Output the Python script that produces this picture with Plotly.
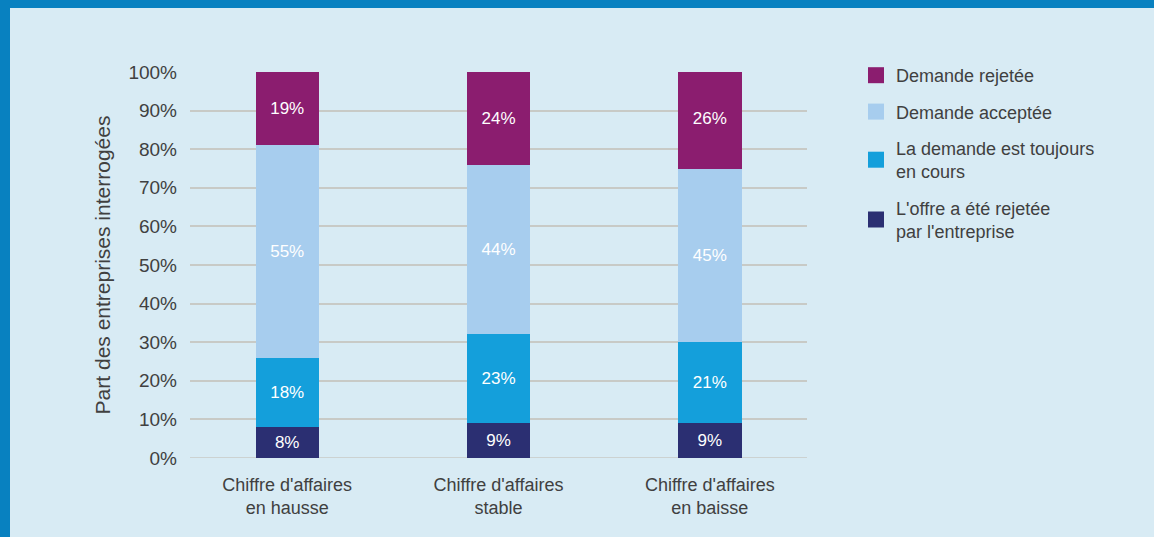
import plotly.graph_objects as go

categories = ["Chiffre d'affaires<br>en hausse", "Chiffre d'affaires<br>stable", "Chiffre d'affaires<br>en baisse"]
series_names = ["L'offre a été rejetée<br>par l'entreprise", "La demande est toujours<br>en cours", "Demande acceptée", "Demande rejetée"]
offre_rejetee = [8, 9, 9]
en_cours = [18, 23, 21]
acceptee = [55, 44, 45]
rejetee = [19, 24, 26]
colors = ["#2b2f72", "#149fdb", "#a7cdee", "#8b1d6f"]
y_ticks = [0, 10, 20, 30, 40, 50, 60, 70, 80, 90, 100]

W, H = 1154, 537
L, R, T, B = 190, 347, 72, 79
PW, PH = W - L - R, H - T - B

fig = go.Figure()
values = [offre_rejetee, en_cours, acceptee, rejetee]
for name, vals, col in zip(series_names, values, colors):
    fig.add_trace(go.Bar(
        x=categories, y=vals, name=name, marker=dict(color=col, line=dict(width=0)),
        width=0.3, texttemplate="%{y}%", textposition="inside", insidetextanchor="middle",
        textangle=0, textfont=dict(color="white", size=17, family="Liberation Sans, Arial"),
        showlegend=False, hoverinfo="skip"))

# legend entries (square markers)
for i in range(3, -1, -1):
    fig.add_trace(go.Scatter(
        x=[None], y=[None], mode="markers", name=series_names[i],
        marker=dict(symbol="square", size=16, color=colors[i]),
        legendgroup=f"g{i}", showlegend=True))

def px_x(x):
    return (x - L) / PW

def px_y(y):
    return (H - B - y) / PH

shapes = [
    dict(type="rect", xref="paper", yref="paper", x0=px_x(0), x1=px_x(W), y0=px_y(8), y1=px_y(0),
         fillcolor="#0881c0", line=dict(width=0), layer="below"),
    dict(type="rect", xref="paper", yref="paper", x0=px_x(0), x1=px_x(10), y0=px_y(H), y1=px_y(0),
         fillcolor="#0881c0", line=dict(width=0), layer="below"),
]

fig.update_layout(
    width=W, height=H,
    margin=dict(l=L, r=R, t=T, b=B, pad=0),
    paper_bgcolor="#d8ebf4", plot_bgcolor="rgba(0,0,0,0)",
    barmode="stack", bargap=0.7,
    font=dict(family="Liberation Sans, Arial", color="#404040", size=18),
    shapes=shapes,
    legend=dict(x=px_x(856), y=px_y(57), xanchor="left", yanchor="top",
                traceorder="grouped", tracegroupgap=10, bgcolor="rgba(0,0,0,0)",
                font=dict(size=18, color="#404040"), itemclick=False),
    xaxis=dict(range=[-0.46, 2.46], showgrid=False, zeroline=False, showline=False,
               ticks="", ticklabelstandoff=14, tickfont=dict(size=18, color="#404040"), fixedrange=True),
    yaxis=dict(range=[0, 100], tickvals=y_ticks, ticktext=[f"{v}%" for v in y_ticks],
               showgrid=True, gridcolor="#c8cac6", gridwidth=1.5, zeroline=False,
               showline=False, ticks="", ticklabelstandoff=12,
               tickfont=dict(size=19, color="#404040"),
               title=dict(text="Part des entreprises interrogées", font=dict(size=21, color="#404040"), standoff=12),
               fixedrange=True),
)
fig.add_hline(y=0, line=dict(color="#c8cac6", width=1.5), layer="below")

fig.write_html("out.html")
